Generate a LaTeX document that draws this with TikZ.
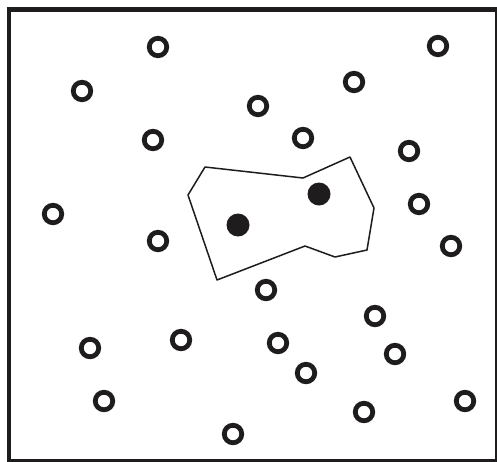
\documentclass[tikz,border=0pt]{standalone}
\usepackage{xcolor}
\definecolor{plateink}{HTML}{1E1C1C}

\begin{document}
\begin{tikzpicture}[
  x=1pt,
  y=-1pt,
  every node/.style={plateink, inner sep=0pt},
  ring/.style={circle, draw=plateink, line width=4.8pt, minimum size=17.5pt},
  seed/.style={circle, fill=plateink, minimum size=23pt},
  frame/.style={plateink, line width=4.8pt},
  hull/.style={plateink, line width=1.5pt, line join=round}
]
  \useasboundingbox (0,0) rectangle (497,461);

  % ---- the outer frame -------------------------------------------------
  \draw[frame] (9,9.5) rectangle (497,461);

  % ---- the scattered open points ---------------------------------------
  \node[ring] (p1)  at (158,47)  {};
  \node[ring] (p2)  at (438,46)  {};
  \node[ring] (p3)  at (82,91)   {};
  \node[ring] (p4)  at (354,82)  {};
  \node[ring] (p5)  at (258,106) {};
  \node[ring] (p6)  at (153,140) {};
  \node[ring] (p7)  at (303,138) {};
  \node[ring] (p8)  at (409,151) {};
  \node[ring] (p9)  at (53,214)  {};
  \node[ring] (p10) at (419,204) {};
  \node[ring] (p11) at (158,241) {};
  \node[ring] (p12) at (451,246) {};
  \node[ring] (p13) at (266,290) {};
  \node[ring] (p14) at (375,316) {};
  \node[ring] (p15) at (90,348)  {};
  \node[ring] (p16) at (181,340) {};
  \node[ring] (p17) at (278,343) {};
  \node[ring] (p18) at (395,354) {};
  \node[ring] (p19) at (306,373) {};
  \node[ring] (p20) at (104,401) {};
  \node[ring] (p21) at (364,412) {};
  \node[ring] (p22) at (465,401) {};
  \node[ring] (p23) at (233,434) {};

  % ---- the two filled points -------------------------------------------
  \node[seed] (s1) at (238,225) {};
  \node[seed] (s2) at (319,194) {};

  % ---- the region round them -------------------------------------------
  \draw[hull] (205,167) -- (303,178) -- (350,157) -- (374,208)
    -- (367,250) -- (335,257) -- (305,246) -- (217,280) -- (188,195)
    -- cycle;
\end{tikzpicture}
\end{document}
